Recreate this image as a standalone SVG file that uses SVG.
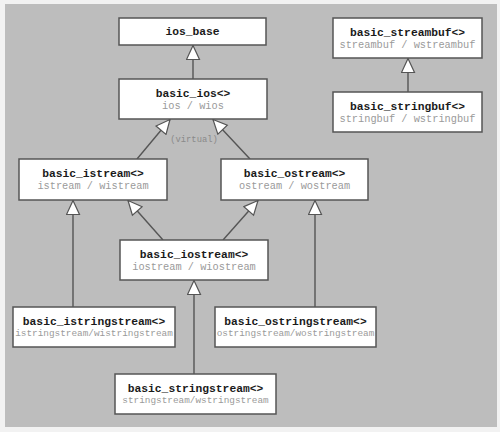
<svg xmlns="http://www.w3.org/2000/svg" width="500" height="432" viewBox="0 0 500 432">
<defs>
<style>
.box{fill:#ffffff;stroke:#555555;stroke-width:1.5}
.t{font-family:"Liberation Mono",monospace;font-weight:bold;font-size:11.3px;fill:#1a1a1a;text-anchor:middle}
.s{font-family:"Liberation Mono",monospace;font-size:10.3px;fill:#9a9a9a;text-anchor:middle}
.s2{font-family:"Liberation Mono",monospace;font-size:9.4px;fill:#9a9a9a;text-anchor:middle}
.c{stroke:#555555;stroke-width:1.4;fill:none;marker-end:url(#tri)}
.v{font-family:"Liberation Mono",monospace;font-size:8.8px;fill:#8a8a8a;text-anchor:middle}
</style>
<marker id="tri" markerUnits="userSpaceOnUse" viewBox="-1 -1 16 15" markerWidth="16" markerHeight="15" refX="14" refY="6.5" orient="auto">
<path d="M0,0 L14,6.5 L0,13 Z" fill="#ffffff" stroke="#555555" stroke-width="1.2"/>
</marker>
</defs>
<rect x="0" y="0" width="500" height="432" fill="#f2f2f2"/>
<rect x="5" y="4" width="492" height="423" fill="#bdbdbd"/>
<g id="connectors">
<line class="c" x1="193" y1="79" x2="193" y2="45.5"/>
<line class="c" x1="137" y1="159" x2="170" y2="119.5"/>
<line class="c" x1="250" y1="159" x2="213" y2="119.5"/>
<line class="c" x1="408" y1="92" x2="408" y2="58.5"/>
<line class="c" x1="73" y1="307" x2="73" y2="200.5"/>
<line class="c" x1="163" y1="240" x2="128" y2="200.5"/>
<line class="c" x1="223" y1="240" x2="258" y2="200.5"/>
<line class="c" x1="315" y1="307" x2="315" y2="200.5"/>
<line class="c" x1="194" y1="374" x2="194" y2="280.5"/>
<text class="v" x="194" y="142">(virtual)</text>
</g>
<g id="ios_base">
<rect class="box" x="119" y="18" width="147" height="27"/>
<text class="t" x="192.5" y="35">ios_base</text>
</g>
<g id="basic_ios">
<rect class="box" x="119" y="79" width="148" height="40"/>
<text class="t" x="193" y="97">basic_ios&lt;&gt;</text>
<text class="s" x="193" y="109">ios / wios</text>
</g>
<g id="basic_streambuf">
<rect class="box" x="333" y="18" width="149" height="40"/>
<text class="t" x="407.5" y="36">basic_streambuf&lt;&gt;</text>
<text class="s" x="407.5" y="48">streambuf / wstreambuf</text>
</g>
<g id="basic_stringbuf">
<rect class="box" x="333" y="92" width="149" height="40"/>
<text class="t" x="407.5" y="110">basic_stringbuf&lt;&gt;</text>
<text class="s" x="407.5" y="122">stringbuf / wstringbuf</text>
</g>
<g id="basic_istream">
<rect class="box" x="19" y="159" width="148" height="41"/>
<text class="t" x="93" y="177">basic_istream&lt;&gt;</text>
<text class="s" x="93" y="189">istream / wistream</text>
</g>
<g id="basic_ostream">
<rect class="box" x="221" y="159" width="147" height="41"/>
<text class="t" x="294.5" y="177">basic_ostream&lt;&gt;</text>
<text class="s" x="294.5" y="189">ostream / wostream</text>
</g>
<g id="basic_iostream">
<rect class="box" x="120" y="240" width="148" height="40"/>
<text class="t" x="194" y="258">basic_iostream&lt;&gt;</text>
<text class="s" x="194" y="270">iostream / wiostream</text>
</g>
<g id="basic_istringstream">
<rect class="box" x="13" y="307" width="162" height="40"/>
<text class="t" x="94" y="325">basic_istringstream&lt;&gt;</text>
<text class="s2" x="94" y="336">istringstream/wistringstream</text>
</g>
<g id="basic_ostringstream">
<rect class="box" x="215" y="307" width="161" height="40"/>
<text class="t" x="295.5" y="325">basic_ostringstream&lt;&gt;</text>
<text class="s2" x="295.5" y="336">ostringstream/wostringstream</text>
</g>
<g id="basic_stringstream">
<rect class="box" x="115" y="374" width="161" height="40"/>
<text class="t" x="195.5" y="392">basic_stringstream&lt;&gt;</text>
<text class="s2" x="195.5" y="403">stringstream/wstringstream</text>
</g>
</svg>
